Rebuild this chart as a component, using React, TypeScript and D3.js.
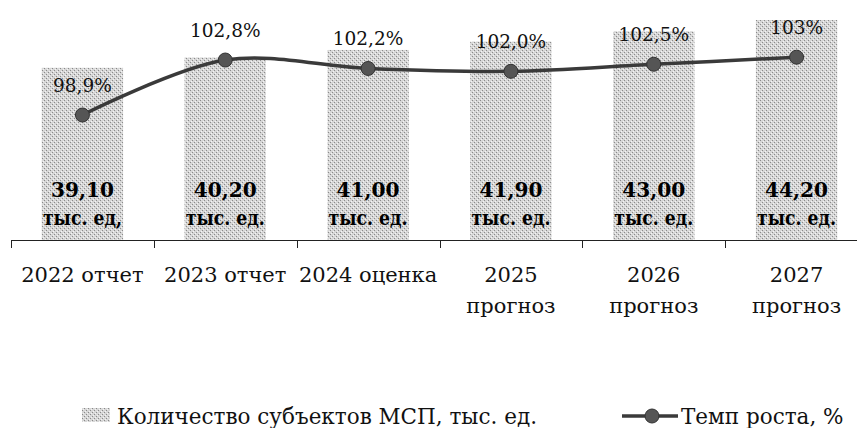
import React from "react";
import * as d3 from "d3";

const categories = ["2022 отчет", "2023 отчет", "2024 оценка", "2025 прогноз", "2026 прогноз", "2027 прогноз"];
const categoryLines = [["2022 отчет"], ["2023 отчет"], ["2024 оценка"], ["2025", "прогноз"], ["2026", "прогноз"], ["2027", "прогноз"]];
const counts = [39.1, 40.2, 41.0, 41.9, 43.0, 44.2];
const countLabels = ["39,10", "40,20", "41,00", "41,90", "43,00", "44,20"];
const unitLabels = ["тыс. ед,", "тыс. ед.", "тыс. ед.", "тыс. ед.", "тыс. ед.", "тыс. ед."];
const growth = [98.9, 102.8, 102.2, 102.0, 102.5, 103.0];
const growthLabels = ["98,9%", "102,8%", "102,2%", "102,0%", "102,5%", "103%"];
const legendBar = "Количество субъектов МСП, тыс. ед.";
const legendLine = "Темп роста, %";

const W = 857;
const H = 428;
const serif = "'DejaVu Serif', 'Liberation Serif', serif";

export default function App() {
  const x = d3.scaleBand<string>().domain(categories).range([11, 868]).paddingInner(0.43).paddingOuter(0.215);
  const yBar = d3.scaleLinear().domain([20.7, 44.2]).range([240, 20]);
  const yLine = d3.scaleLinear().domain([95, 105]).range([170, 29]);
  const cx = (c: string) => (x(c) as number) + x.bandwidth() / 2;
  const step = x.step();
  const pts: [number, number][] = categories.map((c, i) => [cx(c), yLine(growth[i])]);
  const line = d3.line().curve(d3.curveCatmullRom.alpha(0.5))(pts) as string;
  const ticks = d3.range(categories.length).map((i) => 11 + i * step);

  return (
    <svg width={W} height={H} style={{ position: "absolute", left: 0, top: 0, background: "#fff" }}>
      <defs>
        <pattern id="dith" width="4" height="4" patternUnits="userSpaceOnUse">
          <rect width="4" height="4" fill="#d6d6d6" />
          <rect x="0" y="0" width="1" height="1" fill="#8a8a8a" />
          <rect x="2" y="2" width="1" height="1" fill="#8a8a8a" />
          <rect x="1" y="3" width="1" height="1" fill="#f4f4f4" />
          <rect x="3" y="1" width="1" height="1" fill="#f4f4f4" />
        </pattern>
      </defs>
      {categories.map((c, i) => (
        <rect key={c} x={x(c)} y={yBar(counts[i])} width={x.bandwidth()} height={240 - yBar(counts[i])} fill="url(#dith)" />
      ))}
      <line x1={12} x2={857} y1={240.5} y2={240.5} stroke="#222" strokeWidth={1} />
      {ticks.map((t, i) => (
        <line key={i} x1={Math.round(t) + 0.5} x2={Math.round(t) + 0.5} y1={240} y2={248} stroke="#222" strokeWidth={1} />
      ))}
      <path d={line} fill="none" stroke="#3a3a3a" strokeWidth={3.5} />
      {pts.map((p, i) => (
        <circle key={i} cx={p[0]} cy={p[1]} r={7} fill="#555" stroke="#333" strokeWidth={1} />
      ))}
      {pts.map((p, i) => (
        <text key={"g" + i} x={p[0]} y={p[1] - 23} textAnchor="middle" fontFamily={serif} fontSize={18.5} fill="#111">
          {growthLabels[i]}
        </text>
      ))}
      {categories.map((c, i) => (
        <g key={"b" + i} fontFamily={serif} fontWeight="bold" fontSize={20} fill="#000" textAnchor="middle">
          <text x={cx(c)} y={197} textLength={63} lengthAdjust="spacingAndGlyphs">{countLabels[i]}</text>
          <text x={cx(c)} y={225} textLength={79} lengthAdjust="spacingAndGlyphs">{unitLabels[i]}</text>
        </g>
      ))}
      {categories.map((c, i) => (
        <g key={"c" + i} fontFamily={serif} fontSize={21} fill="#111" textAnchor="middle">
          {categoryLines[i].map((s, j) => (
            <text key={j} x={cx(c)} y={282 + j * 31}>{s}</text>
          ))}
        </g>
      ))}
      <g fontFamily={serif} fontSize={21.5} fill="#111">
        <rect x={82} y={408} width={28} height={14} fill="url(#dith)" />
        <text x={117} y={424}>{legendBar}</text>
        <line x1={622} x2={678} y1={416} y2={416} stroke="#3a3a3a" strokeWidth={3.5} />
        <circle cx={652} cy={416} r={7} fill="#555" stroke="#333" />
        <text x={681} y={424}>{legendLine}</text>
      </g>
    </svg>
  );
}
